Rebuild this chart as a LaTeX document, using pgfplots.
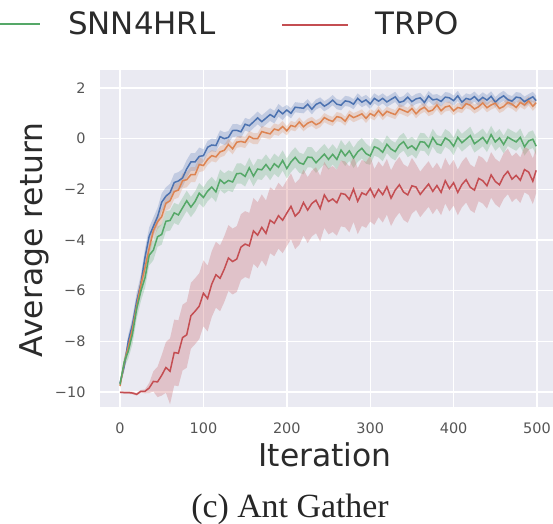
\documentclass[border=0pt]{standalone}
\usepackage{pgfplots}
\pgfplotsset{compat=1.18}
\usepackage{pgfplotstable}
\usepgfplotslibrary{fillbetween}
\usepackage{fontspec}
\setmainfont{DejaVu Sans}
\newfontfamily\titlefont{Liberation Serif}
\definecolor{sbblue}{HTML}{4C72B0}
\definecolor{sborange}{HTML}{DD8452}
\definecolor{sbgreen}{HTML}{55A868}
\definecolor{sbred}{HTML}{C44E52}
\definecolor{bgc}{HTML}{EAEAF2}
\definecolor{tickgray}{HTML}{555555}
\definecolor{labelgray}{HTML}{2B2B2B}

\pgfplotstableread{
x b bs o os g gs r rs
0 -9.65 0.10 -9.76 0.10 -9.70 0.10 -10.01 0.03
5 -8.99 0.20 -8.86 0.20 -8.82 0.20 -10.02 0.05
10 -7.97 0.25 -8.20 0.25 -8.38 0.30 -10.02 0.05
15 -7.33 0.30 -7.50 0.30 -7.70 0.40 -10.04 0.05
20 -6.42 0.35 -6.60 0.30 -6.71 0.40 -10.09 0.05
25 -5.72 0.35 -5.77 0.30 -6.02 0.40 -9.97 0.05
30 -4.68 0.35 -5.09 0.30 -5.49 0.40 -9.97 0.08
35 -3.85 0.35 -4.33 0.30 -4.60 0.40 -9.84 0.20
40 -3.46 0.35 -3.63 0.30 -4.40 0.40 -9.58 0.40
45 -3.08 0.35 -3.28 0.30 -3.87 0.40 -9.60 0.60
50 -2.51 0.35 -3.08 0.30 -3.78 0.40 -9.34 0.80
55 -2.27 0.35 -2.55 0.30 -3.26 0.40 -9.03 1.00
60 -2.13 0.35 -2.45 0.30 -3.23 0.40 -9.18 1.30
65 -1.73 0.35 -2.09 0.30 -2.93 0.40 -8.44 1.30
70 -1.67 0.35 -2.03 0.30 -3.01 0.40 -8.47 1.30
75 -1.55 0.35 -1.66 0.30 -2.73 0.40 -7.85 1.30
80 -1.19 0.35 -1.62 0.30 -2.45 0.40 -7.74 1.30
85 -0.92 0.35 -1.42 0.30 -2.70 0.40 -6.99 1.30
90 -0.92 0.35 -1.42 0.30 -2.48 0.40 -6.81 1.30
95 -0.70 0.35 -1.02 0.30 -2.15 0.40 -6.61 1.30
100 -0.67 0.25 -1.06 0.22 -2.32 0.40 -6.10 1.30
105 -0.34 0.25 -0.82 0.22 -2.07 0.40 -6.31 1.30
110 -0.25 0.25 -0.67 0.22 -1.91 0.40 -5.74 1.30
115 -0.27 0.25 -0.72 0.22 -2.10 0.40 -5.37 1.30
120 0.08 0.25 -0.52 0.22 -1.62 0.40 -5.51 1.30
125 0.00 0.25 -0.46 0.22 -1.77 0.40 -5.15 1.30
130 0.05 0.25 -0.23 0.22 -1.65 0.40 -4.71 1.30
135 0.32 0.25 -0.40 0.22 -1.71 0.40 -4.85 1.30
140 0.33 0.25 -0.14 0.22 -1.38 0.40 -4.75 1.30
145 0.27 0.25 -0.11 0.22 -1.37 0.40 -4.28 1.30
150 0.57 0.25 -0.15 0.22 -1.49 0.40 -4.16 1.30
155 0.51 0.25 0.09 0.22 -1.15 0.40 -4.23 1.30
160 0.66 0.25 0.00 0.22 -1.48 0.40 -3.64 1.30
165 0.82 0.25 0.00 0.22 -1.20 0.40 -3.81 1.30
170 0.67 0.25 0.28 0.22 -1.23 0.40 -3.50 1.30
175 0.81 0.25 0.23 0.22 -1.02 0.40 -3.74 1.30
180 0.95 0.25 0.19 0.22 -1.24 0.40 -3.22 1.30
185 0.85 0.25 0.38 0.22 -0.99 0.40 -3.34 1.30
190 1.12 0.25 0.33 0.22 -1.13 0.40 -3.04 1.30
195 0.98 0.25 0.48 0.22 -0.86 0.40 -3.22 1.30
200 1.13 0.20 0.31 0.18 -1.18 0.40 -2.94 1.30
205 1.00 0.20 0.52 0.18 -0.92 0.40 -2.67 1.30
210 1.24 0.20 0.47 0.18 -0.74 0.40 -3.06 1.30
215 1.22 0.20 0.66 0.18 -0.95 0.40 -2.89 1.30
220 1.20 0.20 0.47 0.18 -1.01 0.40 -2.52 1.30
225 1.36 0.20 0.61 0.18 -0.73 0.40 -2.82 1.30
230 1.16 0.20 0.68 0.18 -0.74 0.40 -2.56 1.30
235 1.35 0.20 0.55 0.18 -0.95 0.40 -2.43 1.30
240 1.43 0.20 0.63 0.18 -0.78 0.40 -2.76 1.30
245 1.28 0.20 0.83 0.18 -0.61 0.40 -2.22 1.30
250 1.38 0.20 0.74 0.18 -0.82 0.40 -2.48 1.30
255 1.52 0.20 0.68 0.18 -0.62 0.40 -2.38 1.30
260 1.36 0.20 0.87 0.18 -0.82 0.40 -2.53 1.30
265 1.32 0.20 0.83 0.18 -0.45 0.40 -2.16 1.30
270 1.49 0.20 0.69 0.18 -0.68 0.40 -2.20 1.30
275 1.46 0.20 0.94 0.18 -0.48 0.40 -2.40 1.30
280 1.36 0.20 0.83 0.18 -0.76 0.40 -1.99 1.30
285 1.59 0.20 0.90 0.18 -0.52 0.40 -2.47 1.30
290 1.44 0.20 0.98 0.18 -0.38 0.40 -2.14 1.30
295 1.53 0.20 0.80 0.18 -0.59 0.40 -2.22 1.30
300 1.37 0.20 0.99 0.18 -0.68 0.35 -1.97 1.30
305 1.59 0.20 0.90 0.18 -0.32 0.35 -2.30 1.10
310 1.48 0.20 1.11 0.18 -0.39 0.35 -2.00 1.10
315 1.59 0.20 0.91 0.18 -0.54 0.35 -2.21 1.10
320 1.45 0.20 1.08 0.18 -0.22 0.35 -1.90 1.10
325 1.55 0.20 1.01 0.18 -0.41 0.35 -2.35 1.10
330 1.65 0.20 0.95 0.18 -0.51 0.35 -2.03 1.10
335 1.43 0.20 1.18 0.18 -0.25 0.35 -1.82 1.10
340 1.48 0.20 1.11 0.18 -0.12 0.35 -2.11 1.10
345 1.64 0.20 1.04 0.18 -0.38 0.35 -2.22 1.10
350 1.46 0.20 1.19 0.18 -0.28 0.35 -1.86 1.10
355 1.57 0.20 0.98 0.18 -0.44 0.35 -1.91 0.90
360 1.61 0.20 1.15 0.18 -0.12 0.35 -2.20 0.90
365 1.43 0.20 1.24 0.18 -0.14 0.35 -1.99 0.90
370 1.68 0.20 1.07 0.18 -0.34 0.35 -1.79 0.90
375 1.53 0.20 1.13 0.18 0.04 0.35 -2.08 0.90
380 1.56 0.20 1.33 0.18 -0.21 0.35 -1.85 0.90
385 1.47 0.20 1.10 0.18 -0.26 0.35 -2.12 0.90
390 1.64 0.20 1.25 0.18 0.03 0.35 -1.66 0.90
395 1.61 0.20 1.29 0.18 -0.08 0.35 -1.97 0.90
400 1.50 0.20 1.10 0.18 -0.30 0.35 -1.74 0.90
405 1.69 0.20 1.23 0.18 0.05 0.35 -2.12 0.90
410 1.44 0.20 1.19 0.18 -0.16 0.35 -1.81 0.90
415 1.59 0.20 1.38 0.18 -0.02 0.35 -1.62 0.90
420 1.54 0.20 1.32 0.18 0.12 0.35 -1.92 0.90
425 1.66 0.20 1.17 0.18 -0.20 0.35 -2.03 0.90
430 1.49 0.20 1.26 0.18 -0.08 0.35 -1.57 0.90
435 1.63 0.20 1.41 0.18 0.05 0.35 -1.66 0.90
440 1.52 0.20 1.22 0.18 -0.18 0.35 -1.86 0.90
445 1.67 0.20 1.33 0.18 0.16 0.35 -1.43 0.90
450 1.44 0.20 1.40 0.18 -0.13 0.35 -1.69 0.90
455 1.59 0.20 1.19 0.18 0.03 0.35 -1.82 0.90
460 1.69 0.20 1.27 0.18 -0.23 0.35 -1.48 0.90
465 1.54 0.20 1.43 0.18 0.06 0.35 -1.29 0.90
470 1.48 0.20 1.36 0.18 -0.04 0.35 -1.60 0.90
475 1.64 0.20 1.23 0.18 -0.13 0.35 -1.45 0.90
480 1.61 0.20 1.43 0.18 0.05 0.35 -1.64 0.90
485 1.46 0.20 1.33 0.18 -0.32 0.35 -1.22 0.90
490 1.56 0.20 1.49 0.18 -0.09 0.35 -1.32 0.90
495 1.65 0.20 1.28 0.18 -0.02 0.35 -1.68 0.90
499 1.50 0.20 1.42 0.18 -0.30 0.35 -1.25 0.90
}\data

\begin{document}
\begin{tikzpicture}[x=1bp,y=1bp]
\begin{axis}[
  scale only axis, width=453bp, height=337bp,
  xmin=-24, xmax=519.2, ymin=-10.59, ymax=2.71,
  axis background/.style={fill=bgc},
  axis line style={draw=none},
  major tick length=0pt,
  grid=major, grid style={white, line width=1.4bp},
  xtick={0,100,200,300,400,500},
  xticklabels={0,100,200,300,400,500},
  ytick={-10,-8,-6,-4,-2,0,2},
  yticklabels={−10,−8,−6,−4,−2,0,2},
  tick label style={font=\fontsize{14.5}{17}\selectfont, text=tickgray},
  xticklabel style={yshift=-12.7bp},
  yticklabel style={xshift=-11bp},
  xlabel={Iteration}, ylabel={Average return},
  every axis x label/.style={at={(axis description cs:0.497,-0.178)}, anchor=base,
    font=\fontsize{31.5}{36}\selectfont, text=labelgray},
  every axis y label/.style={at={(axis description cs:-0.128,0.496)}, anchor=base, rotate=90,
    font=\fontsize{31.5}{36}\selectfont, text=labelgray},
]
\coordinate (sw) at (rel axis cs:0,0);
% bands
\addplot[draw=none, name path=bu] table[x=x, y expr=\thisrow{b}+\thisrow{bs}] {\data};
\addplot[draw=none, name path=bl] table[x=x, y expr=\thisrow{b}-\thisrow{bs}] {\data};
\addplot[draw=none, name path=ou] table[x=x, y expr=\thisrow{o}+\thisrow{os}] {\data};
\addplot[draw=none, name path=ol] table[x=x, y expr=\thisrow{o}-\thisrow{os}] {\data};
\addplot[draw=none, name path=gu] table[x=x, y expr=\thisrow{g}+\thisrow{gs}] {\data};
\addplot[draw=none, name path=gl] table[x=x, y expr=\thisrow{g}-\thisrow{gs}] {\data};
\addplot[draw=none, name path=ru] table[x=x, y expr=\thisrow{r}+\thisrow{rs}] {\data};
\addplot[draw=none, name path=rl] table[x=x, y expr=\thisrow{r}-\thisrow{rs}] {\data};
\addplot[sbblue, fill opacity=0.25, draw=none] fill between[of=bu and bl];
\addplot[sborange, fill opacity=0.25, draw=none] fill between[of=ou and ol];
\addplot[sbgreen, fill opacity=0.25, draw=none] fill between[of=gu and gl];
\addplot[sbred, fill opacity=0.25, draw=none] fill between[of=ru and rl];
% lines
\addplot[sbblue, line width=1.5bp] table[x=x, y=b] {\data};
\addplot[sborange, line width=1.5bp] table[x=x, y=o] {\data};
\addplot[sbgreen, line width=1.5bp] table[x=x, y=g] {\data};
\addplot[sbred, line width=1.5bp] table[x=x, y=r] {\data};
\end{axis}
% legend (partly cut off at the left edge, as in the reference)
\draw[sbgreen, line width=2bp] ([shift={(-126,383)}]sw) -- ([shift={(-60,383)}]sw);
\node[anchor=base west, inner sep=0pt, font=\fontsize{31}{36}\selectfont, text=labelgray] at ([shift={(-32,372)}]sw) {SNN4HRL};
\draw[sbred, line width=2bp] ([shift={(182,382)}]sw) -- ([shift={(248,382)}]sw);
\node[anchor=base west, inner sep=0pt, font=\fontsize{31}{36}\selectfont, text=labelgray] at ([shift={(275,372)}]sw) {TRPO};
\node[anchor=base, font=\titlefont\fontsize{34}{40}\selectfont, text=black!85] at ([shift={(190,-110)}]sw) {(c) Ant Gather};
\pgfresetboundingbox
\path[use as bounding box] ([shift={(-100,-117)}]sw) rectangle ([shift={(453,407)}]sw);
\end{tikzpicture}
\end{document}
